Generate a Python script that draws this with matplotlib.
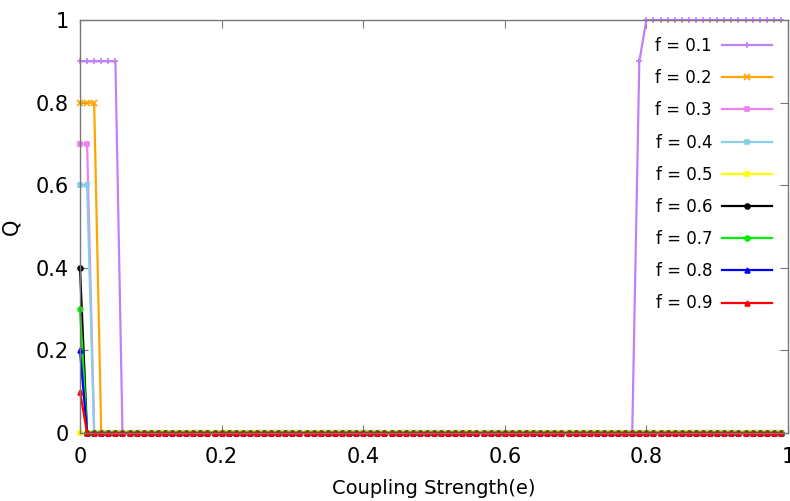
import numpy as np
import matplotlib
matplotlib.use("Agg")
import matplotlib.pyplot as plt

## DATA

e = np.round(np.arange(0, 1.0, 0.01), 2)

labels = ["f = 0.1", "f = 0.2", "f = 0.3", "f = 0.4", "f = 0.5",
          "f = 0.6", "f = 0.7", "f = 0.8", "f = 0.9"]
colors = ["#bf80f8", "#ffa500", "#ee82ee", "#87ceeb", "#ffff00",
          "#000000", "#00ee00", "#0000ff", "#ff0000"]
markers = ["+", "x", "s", "s", "s", "o", "o", "^", "^"]

# non-zero values of Q, everything else is 0
q01 = {0.0: 0.9, 0.01: 0.9, 0.02: 0.9, 0.03: 0.9, 0.04: 0.9, 0.05: 0.9, 0.79: 0.9}
q01_high_from = 0.80   # Q = 1 from here on for f = 0.1
q02 = {0.0: 0.8, 0.01: 0.8, 0.02: 0.8}
q03 = {0.0: 0.7, 0.01: 0.7}
q04 = {0.0: 0.6, 0.01: 0.6}
q05 = {}
q06 = {0.0: 0.4}
q07 = {0.0: 0.3}
q08 = {0.0: 0.2}
q09 = {0.0: 0.1}


def series(points, high_from=None):
    q = np.zeros(len(e))
    for i, x in enumerate(e):
        if high_from is not None and x >= high_from - 1e-9:
            q[i] = 1.0
        elif round(x, 2) in points:
            q[i] = points[round(x, 2)]
    return q


qs = [series(q01, q01_high_from), series(q02), series(q03), series(q04), series(q05),
      series(q06), series(q07), series(q08), series(q09)]

## PLOT

fig = plt.figure(figsize=(7.9, 5.01), dpi=100)
ax = fig.add_axes([80 / 790, 68 / 501, 708 / 790, 413 / 501])

for q, c, m, lab in zip(qs, colors, markers, labels):
    ms = 4 if m in "+x" else 3.5
    ax.plot(e, q, color=c, marker=m, markersize=ms, markeredgewidth=1.2,
            linewidth=1.6, label=lab, clip_on=False)

ax.set_xlim(0, 1)
ax.set_ylim(0, 1)
ax.set_xticks([0, 0.2, 0.4, 0.6, 0.8, 1])
ax.set_xticklabels(["0", "0.2", "0.4", "0.6", "0.8", "1"])
ax.set_yticks([0, 0.2, 0.4, 0.6, 0.8, 1])
ax.set_yticklabels(["0", "0.2", "0.4", "0.6", "0.8", "1"])
ax.tick_params(direction="in", top=True, right=True, length=6, width=0.8,
               color="#777777", labelsize=15)
ax.tick_params(axis="x", pad=10)
ax.tick_params(axis="y", pad=8)
for s in ax.spines.values():
    s.set_color("#777777")
    s.set_linewidth(1.0)

ax.set_xlabel("Coupling Strength(e)", fontsize=14, labelpad=9)
ax.set_ylabel("Q", fontsize=15, labelpad=10)

ax.legend(loc="upper right", bbox_to_anchor=(772 / 790, 464 / 501),
          bbox_transform=fig.transFigure, frameon=False, markerfirst=False,
          fontsize=12, handlelength=3.0, handletextpad=0.6,
          labelspacing=0.85, borderpad=0, borderaxespad=0)

plt.savefig("out.png", dpi=100)
